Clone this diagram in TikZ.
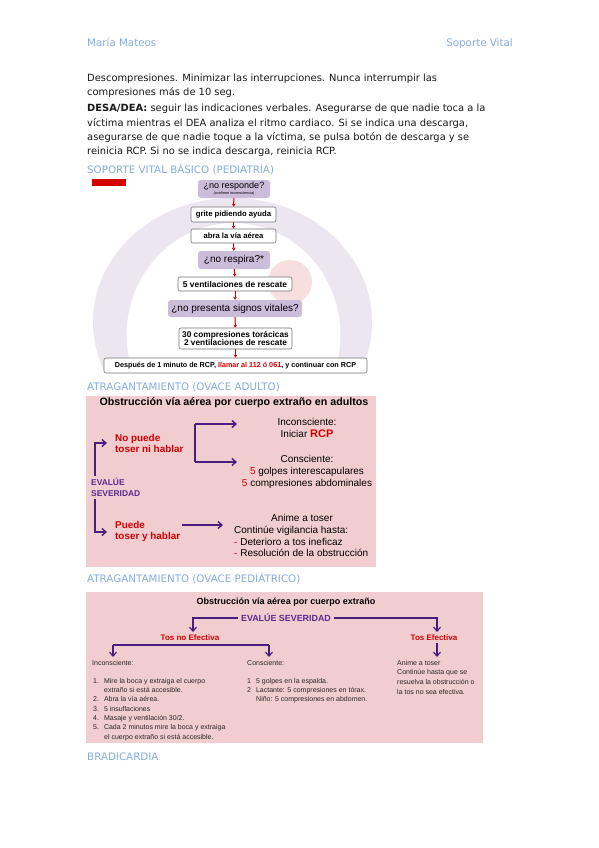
\documentclass[tikz,border=0pt]{standalone}
\usepackage{fontspec}
\usetikzlibrary{arrows.meta}
\newfontfamily\dv{DejaVu Sans}
\newfontfamily\ls{Liberation Sans}
\definecolor{hblue}{HTML}{86ACE0}
\definecolor{boxpurple}{HTML}{CBBCDA}
\definecolor{ringc}{HTML}{ECE6F1}
\definecolor{pinkc}{HTML}{F7DEDF}
\definecolor{bgpink}{HTML}{F2CDD0}
\definecolor{dpurple}{HTML}{4B1C80}
\definecolor{rred}{HTML}{D40000}
\definecolor{evpurple}{HTML}{5B2A91}
\tikzset{
  body/.style={font=\dv\fontsize{9.9}{11}\selectfont, anchor=west, inner sep=0pt, text=black!90},
  heading/.style={font=\dv\fontsize{10.3}{11}\selectfont, anchor=base west, inner sep=0pt, text=hblue},
  pbox/.style={fill=boxpurple, rounded corners=3pt, inner sep=0pt, font=\ls\fontsize{9}{9}\selectfont},
  wbox/.style={draw=black!55, line width=0.6pt, fill=white, rounded corners=2pt, inner sep=0pt, font=\ls\bfseries\fontsize{7.7}{8}\selectfont},
  rarr/.style={draw=rred, line width=1pt, -{Stealth[length=3pt,width=3.5pt]}},
  parr/.style={draw=dpurple, line width=1.4pt, -{Straight Barb[length=4pt,width=7pt]}},
  pline/.style={draw=dpurple, line width=1.4pt},
  dtext/.style={font=\ls\fontsize{10}{11.8}\selectfont, inner sep=0pt},
  stext/.style={font=\ls\fontsize{7}{9.3}\selectfont, inner sep=0pt, anchor=north west, align=left, text=black!85},
}
\begin{document}
\begin{tikzpicture}[x=1pt,y=-1pt]
\useasboundingbox (0,0) rectangle (599,848);
\fill[white] (0,0) rectangle (599,848);
% header
\node[heading] (hl) at (87,47) {María Mateos};
\node[heading, anchor=base east] (hr) at (513,47) {Soporte Vital};
% paragraphs
\node[body] (p1) at (87,79) {Descompresiones. Minimizar las interrupciones. Nunca interrumpir las};
\node[body] (p2) at (87,93) {compresiones más de 10 seg.};
\node[body] (p3) at (87,109) {\textbf{DESA/DEA:} seguir las indicaciones verbales. Asegurarse de que nadie toca a la};
\node[body] (p4) at (87,124) {víctima mientras el DEA analiza el ritmo cardiaco. Si se indica una descarga,};
\node[body] (p5) at (87,138) {asegurarse de que nadie toque a la víctima, se pulsa botón de descarga y se};
\node[body] (p6) at (87,152) {reinicia RCP. Si no se indica descarga, reinicia RCP.};
\node[heading] (h1) at (87,173) {SOPORTE VITAL BÁSICO (PEDIATRÍA)};
% flowchart background
\begin{scope}
\clip (88,176) rectangle (376,372);
\fill[ringc, even odd rule] (232.5,322) ellipse [x radius=139.5, y radius=124] (233.5,335) ellipse [x radius=107, y radius=112];
\fill[pinkc] (290,282) circle (22);
\end{scope}
\node[fill=rred, minimum width=34pt, minimum height=6.5pt, inner sep=0pt] (tag) at (109,182.5) {};
% flowchart boxes
\node[pbox, minimum width=72pt, minimum height=18pt, align=center] (b1) at (234,189) {¿no responde?\\[-2.8pt]{\fontsize{3.8}{4}\selectfont(confirme inconsciencia)}};
\node[wbox, minimum width=85pt, minimum height=15pt] (b2) at (233.5,214.5) {grite pidiendo ayuda};
\node[wbox, minimum width=85pt, minimum height=14pt] (b3) at (233.5,236) {abra la vía aérea};
\node[pbox, minimum width=72pt, minimum height=18pt, font=\ls\fontsize{10}{10}\selectfont] (b4) at (234,260) {¿no respira?*};
\node[wbox, minimum width=114pt, minimum height=14pt, font=\ls\bfseries\fontsize{8.4}{8}\selectfont] (b5) at (235,284) {5 ventilaciones de rescate};
\node[pbox, minimum width=134pt, minimum height=17pt, font=\ls\fontsize{10}{10}\selectfont] (b6) at (235,308.5) {¿no presenta signos vitales?};
\node[wbox, minimum width=113pt, minimum height=21pt, align=center, font=\ls\bfseries\fontsize{8.3}{8.8}\selectfont] (b7) at (235.5,338.5) {30 compresiones torácicas\\2 ventilaciones de rescate};
\node[wbox, minimum width=263pt, minimum height=15pt, font=\ls\bfseries\fontsize{7.2}{8}\selectfont] (b8) at (235.5,365.5) {Después de 1 minuto de RCP, \textcolor{rred}{llamar al 112 ó 061}, y continuar con RCP};
\draw[rarr] (b1) -- (b2);
\draw[rarr] (b2) -- (b3);
\draw[rarr] (b3) -- (b4);
\draw[rarr] (b4) -- (b5);
\draw[rarr] (b5) -- (b6);
\draw[rarr] (b6) -- (b7);
\draw[rarr] (b7) -- (b8);
% adult choking
\node[heading] (h2) at (87,390) {ATRAGANTAMIENTO (OVACE ADULTO)};
\fill[bgpink] (86,396) rectangle (376,567);
\node[dtext, font=\ls\bfseries\fontsize{10.7}{11}\selectfont] (at) at (234,402.5) {Obstrucción vía aérea por cuerpo extraño en adultos};
\node[dtext, anchor=west, align=left, text=rred, font=\ls\bfseries\fontsize{9.9}{11}\selectfont] (np) at (115,443.5) {No puede\\toser ni hablar};
\node[dtext, anchor=west, align=left, text=rred, font=\ls\bfseries\fontsize{9.9}{11}\selectfont] (pu) at (115,531.5) {Puede\\toser y hablar};
\node[dtext, align=left, fill=bgpink, text=evpurple, font=\ls\bfseries\fontsize{8.4}{11}\selectfont, anchor=west, inner ysep=2pt] (ev) at (91,487.5) {EVALÚE\\SEVERIDAD};
\coordinate (ltop) at (95,443);
\coordinate (lbot) at (95,532);
\coordinate (ltopa) at (107,443);
\coordinate (lbota) at (107,532);
\draw[parr] (ev.north -| ltop) -- (ltop) -- (ltopa);
\draw[parr] (ev.south -| lbot) -- (lbot) -- (lbota);
\node[dtext, align=center] (inc) at (307,428) {Inconsciente:\\Iniciar \textcolor{rred}{\bfseries\fontsize{11}{11}\selectfont RCP}};
\node[dtext, align=center] (con) at (307,472) {Consciente:\\\textcolor{rred}{5} golpes interescapulares\\\textcolor{rred}{5} compresiones abdominales};
\coordinate (bkt) at (195,424);
\coordinate (bkb) at (195,462);
\coordinate (bkta) at (237,424);
\coordinate (bkba) at (237,462);
\draw[pline] (bkt) -- (bkb);
\draw[parr] (bkt) -- (bkta);
\draw[parr] (bkb) -- (bkba);
\coordinate (pa1) at (182,525);
\coordinate (pa2) at (223,525);
\draw[parr] (pa1) -- (pa2);
\node[dtext, anchor=north west, align=left] (an) at (234,514) {\hspace*{37pt}Anime a toser\\Continúe vigilancia hasta:\\\textcolor{rred}{-} Deterioro a tos ineficaz\\\textcolor{rred}{-} Resolución de la obstrucción};
% pediatric choking
\node[heading] (h3) at (87,582) {ATRAGANTAMIENTO (OVACE PEDIÁTRICO)};
\fill[bgpink] (86,592) rectangle (483,743);
\node[dtext, font=\ls\bfseries\fontsize{9}{9}\selectfont] (pt) at (286,602) {Obstrucción vía aérea por cuerpo extraño};
\node[dtext, text=evpurple, font=\ls\bfseries\fontsize{8.9}{9}\selectfont, inner xsep=3pt] (pev) at (286,618) {EVALÚE SEVERIDAD};
\node[dtext, text=rred, font=\ls\bfseries\fontsize{8}{8}\selectfont] (tne) at (190,638) {Tos no Efectiva};
\node[dtext, text=rred, font=\ls\bfseries\fontsize{8}{8}\selectfont] (te) at (434,638) {Tos Efectiva};
\coordinate (pl) at (193,618);
\coordinate (pla) at (193,632);
\coordinate (pr) at (437,618);
\coordinate (pra) at (437,632);
\draw[parr, line width=1.2pt] (pev.west) -- (pl) -- (pla);
\draw[parr, line width=1.2pt] (pev.east) -- (pr) -- (pra);
\coordinate (ql) at (113,645);
\coordinate (qr) at (269,645);
\coordinate (qla) at (113,657);
\coordinate (qra) at (269,657);
\draw[pline, line width=1.2pt] (ql) -- (qr);
\draw[parr, line width=1.2pt] (ql) -- (qla);
\draw[parr, line width=1.2pt] (qr) -- (qra);
\coordinate (te1) at (437,643);
\coordinate (te2) at (437,657);
\draw[parr, line width=1.2pt] (te1) -- (te2);
\node[stext] (c1h) at (92,660) {Inconsciente:};
\node[stext] (c1) at (93,678) {1.\hspace{5pt}Mire la boca y extraiga el cuerpo\\\hspace{11pt}extraño si está accesible.\\2.\hspace{5pt}Abra la vía aérea.\\3.\hspace{5pt}5 insuflaciones\\4.\hspace{5pt}Masaje y ventilación 30/2.\\5.\hspace{5pt}Cada 2 minutos mire la boca y extraiga\\\hspace{11pt}el cuerpo extraño si está accesible.};
\node[stext] (c2h) at (247,660) {Consciente:};
\node[stext] (c2) at (247,678) {1\hspace{5pt}5 golpes en la espalda.\\2\hspace{5pt}Lactante: 5 compresiones en tórax.\\\hspace{9pt}Niño: 5 compresiones en abdomen.};
\node[stext, font=\ls\fontsize{7}{9.6}\selectfont] (c3) at (397,660) {Anime a toser\\Continúe hasta que se\\resuelva la obstrucción o\\la tos no sea efectiva.};
\node[heading] (h4) at (87,760) {BRADICARDIA};
\end{tikzpicture}
\end{document}
